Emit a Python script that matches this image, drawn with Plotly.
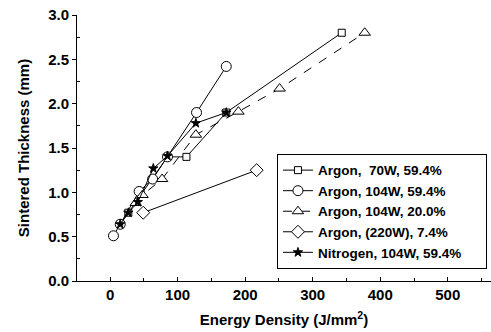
import plotly.graph_objects as go

# Argon, 70W, 59.4%
sq_x = [15, 27, 85, 113, 172, 343]
sq_y = [0.64, 0.77, 1.40, 1.40, 1.90, 2.80]
# Argon, 104W, 59.4%
ci_x = [5, 15, 43, 63, 85, 128, 172]
ci_y = [0.51, 0.64, 1.01, 1.15, 1.40, 1.90, 2.42]
# Argon, 104W, 20.0%
tr_x = [38, 48, 77, 127, 190, 251, 377]
tr_y = [0.88, 0.97, 1.15, 1.65, 1.91, 2.17, 2.80]
# Argon, (220W), 7.4%
di_x = [49, 217]
di_y = [0.77, 1.25]
# Nitrogen, 104W, 59.4%
st_x = [15, 27, 41, 64, 85, 127, 172]
st_y = [0.64, 0.77, 0.89, 1.27, 1.41, 1.78, 1.90]

names = ["Argon,  70W, 59.4%", "Argon, 104W, 59.4%", "Argon, 104W, 20.0%",
         "Argon, (220W), 7.4%", "Nitrogen, 104W, 59.4%\u00a0\u00a0\u00a0\u00a0\u00a0"]

x_ticks = [0, 100, 200, 300, 400, 500]
y_ticks = [0.0, 0.5, 1.0, 1.5, 2.0, 2.5, 3.0]

FONT = "Liberation Sans, Arial, sans-serif"

fig = go.Figure()

def add(x, y, name, symbol, size, dash="solid", fill="white"):
    fig.add_trace(go.Scatter(
        x=x, y=y, name=name, mode="lines+markers",
        line=dict(color="black", width=1, dash=dash),
        marker=dict(symbol=symbol, size=size, color=fill,
                    line=dict(color="black", width=1)),
    ))

add(sq_x, sq_y, names[0], "square", 7)
add(ci_x, ci_y, names[1], "circle", 10)
add(tr_x, tr_y, names[2], "triangle-up", 10, dash="dash")
add(di_x, di_y, names[3], "diamond", 10)
add(st_x, st_y, names[4], "star", 7, fill="black")

fig.update_layout(
    width=491, height=332,
    margin=dict(l=77, r=0, t=15, b=51),
    paper_bgcolor="white", plot_bgcolor="white",
    font=dict(family=FONT, color="black"),
    legend=dict(
        x=0.483, y=0.478, xanchor="left", yanchor="top",
        bgcolor="white", bordercolor="black", borderwidth=1,
        font=dict(family=FONT, size=13.5, color="black", weight="bold"),
        tracegroupgap=0, itemwidth=30,
    ),
)

fig.update_xaxes(
    range=[-49, 564], tickvals=x_ticks, ticktext=[str(v) for v in x_ticks],
    automargin=False,
    showgrid=False, zeroline=False, showline=True, linecolor="black", linewidth=1,
    ticks="inside", ticklen=4, tickcolor="black",
    tickfont=dict(family=FONT, size=15, weight="bold"),
    minor=dict(tickvals=[50, 150, 250, 350, 450, 550], ticks="inside", ticklen=3, tickcolor="black"),
    title=dict(text="Energy Density (J/mm<sup>2</sup>)", standoff=12,
               font=dict(family=FONT, size=15, weight="bold")),
)
fig.update_yaxes(
    range=[0, 3], tickvals=y_ticks, ticktext=[f"{v:.1f}" for v in y_ticks],
    automargin=False,
    showgrid=False, zeroline=False, showline=True, linecolor="black", linewidth=1,
    ticks="outside", ticklen=4, tickcolor="black",
    tickfont=dict(family=FONT, size=15, weight="bold"),
    minor=dict(tickvals=[0.25, 0.75, 1.25, 1.75, 2.25, 2.75], ticks="inside", ticklen=3, tickcolor="black"),
    title=dict(text="Sintered Thickness (mm)", standoff=14,
               font=dict(family=FONT, size=15, weight="bold")),
)

fig.write_html("out.html", config={"displayModeBar": False},
               post_script="document.body.style.margin='0';")
